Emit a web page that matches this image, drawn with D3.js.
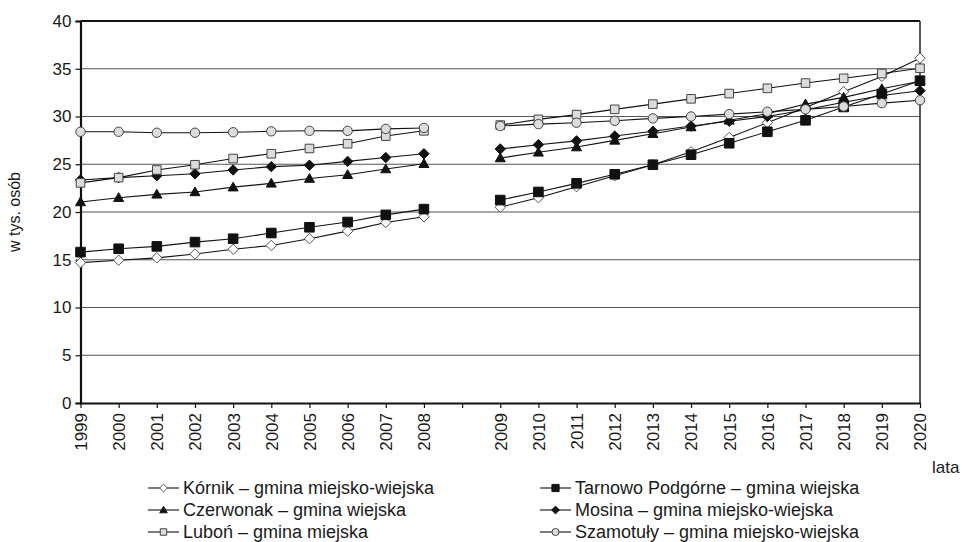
<!DOCTYPE html>
<html>
<head>
<meta charset="utf-8">
<script src="https://cdn.jsdelivr.net/npm/d3@7"></script>
<style>
  html, body { margin: 0; padding: 0; background: #fff; }
  svg text { font-family: "Liberation Sans", Arial, Helvetica, sans-serif; fill: #1a1a1a; }
</style>
</head>
<body>
<svg id="chart" width="962" height="542"></svg>
<script>
// ---- data ----
const categories = ["1999","2000","2001","2002","2003","2004","2005","2006","2007","2008"," ",
                    "2009","2010","2011","2012","2013","2014","2015","2016","2017","2018","2019","2020"];
const yTicks = [0, 5, 10, 15, 20, 25, 30, 35, 40];
const seriesNames = [
  "Kórnik – gmina miejsko-wiejska",
  "Tarnowo Podgórne – gmina wiejska",
  "Czerwonak – gmina wiejska",
  "Mosina – gmina miejsko-wiejska",
  "Luboń – gmina miejska",
  "Szamotuły – gmina miejsko-wiejska"
];
const kornik    = [14.7, 14.95, 15.2, 15.6, 16.1, 16.5, 17.2, 18.0, 18.9, 19.5, null, 20.5, 21.5, 22.65, 23.8, 24.95, 26.3, 27.8, 29.35, 30.95, 32.6, 34.2, 36.1];
const tarnowo   = [15.8, 16.15, 16.4, 16.85, 17.2, 17.8, 18.4, 18.95, 19.7, 20.3, null, 21.25, 22.1, 23.0, 23.95, 24.95, 26.0, 27.2, 28.4, 29.6, 31.0, 32.35, 33.75];
const czerwonak = [21.05, 21.5, 21.85, 22.1, 22.6, 23.0, 23.5, 23.9, 24.5, 25.05, null, 25.65, 26.25, 26.8, 27.5, 28.2, 28.9, 29.6, 30.3, 31.3, 32.0, 32.9, 33.7];
const mosina    = [23.35, 23.6, 23.8, 24.0, 24.4, 24.75, 24.9, 25.3, 25.7, 26.1, null, 26.6, 27.05, 27.45, 27.95, 28.45, 29.0, 29.5, 30.0, 30.7, 31.5, 32.2, 32.7];
const lubon     = [23.05, 23.6, 24.4, 24.95, 25.6, 26.1, 26.65, 27.15, 27.95, 28.5, null, 29.1, 29.7, 30.2, 30.75, 31.3, 31.85, 32.4, 32.95, 33.5, 34.0, 34.5, 35.05];
const szamotuly = [28.4, 28.4, 28.3, 28.3, 28.35, 28.45, 28.5, 28.5, 28.7, 28.8, null, 29.0, 29.2, 29.35, 29.55, 29.8, 30.0, 30.25, 30.5, 30.75, 31.05, 31.4, 31.7];
const seriesValues = [kornik, tarnowo, czerwonak, mosina, lubon, szamotuly];

// ---- styles ----
const markerStyles = [
  { shape: "diamond", fill: "#ffffff", stroke: "#555", size: 5.2 },
  { shape: "square",  fill: "#111111", stroke: "#111", size: 4.8 },
  { shape: "triangle",fill: "#111111", stroke: "#111", size: 5.0 },
  { shape: "diamond", fill: "#111111", stroke: "#111", size: 5.2 },
  { shape: "square",  fill: "#dcdcdc", stroke: "#444", size: 4.3 },
  { shape: "circle",  fill: "#dcdcdc", stroke: "#444", size: 4.7 }
];

function markerPath(shape, s) {
  const p = d3.path();
  if (shape === "diamond") {
    p.moveTo(0, -s); p.lineTo(s, 0); p.lineTo(0, s); p.lineTo(-s, 0); p.closePath();
  } else if (shape === "square") {
    p.rect(-s, -s, 2 * s, 2 * s);
  } else if (shape === "triangle") {
    p.moveTo(0, -s); p.lineTo(s, s * 0.75); p.lineTo(-s, s * 0.75); p.closePath();
  } else {
    p.arc(0, 0, s, 0, 2 * Math.PI);
  }
  return p.toString();
}

// ---- layout ----
const svg = d3.select("#chart");
const plotLeft = 80.5, plotRight = 920, plotTop = 21, plotBottom = 403;

const x = d3.scalePoint().domain(categories).range([plotLeft, plotRight]);
const y = d3.scaleLinear().domain([0, 40]).range([plotBottom, plotTop]);

// gridlines
svg.append("g").selectAll("line")
  .data(yTicks.filter(v => v > 0 && v < 40))
  .join("line")
  .attr("x1", plotLeft).attr("x2", plotRight)
  .attr("y1", d => y(d)).attr("y2", d => y(d))
  .attr("stroke", "#555").attr("stroke-width", 1.2);

// top and right frame
svg.append("line").attr("x1", plotLeft).attr("x2", plotRight).attr("y1", y(40)).attr("y2", y(40))
  .attr("stroke", "#111").attr("stroke-width", 2);
svg.append("line").attr("x1", plotRight).attr("x2", plotRight).attr("y1", y(40)).attr("y2", y(0))
  .attr("stroke", "#111").attr("stroke-width", 1.4);

// y axis
const yAxis = svg.append("g").attr("transform", `translate(${plotLeft},0)`)
  .call(d3.axisLeft(y).tickValues(yTicks).tickSize(5).tickPadding(4).tickFormat(d3.format("d")));
yAxis.select(".domain").attr("stroke", "#111").attr("stroke-width", 2.2);
yAxis.selectAll(".tick line").attr("stroke", "#111").attr("stroke-width", 1.2);
yAxis.selectAll(".tick text").attr("font-size", 17).style("font-family", "Liberation Sans, Arial, sans-serif").attr("fill", "#1a1a1a");

// x axis
const xAxis = svg.append("g").attr("transform", `translate(0,${plotBottom})`)
  .call(d3.axisBottom(x).tickSize(5).tickSizeOuter(0));
xAxis.select(".domain").attr("stroke", "#111").attr("stroke-width", 2.2);
xAxis.selectAll(".tick line").attr("stroke", "#111").attr("stroke-width", 1.2);
xAxis.selectAll(".tick text")
  .attr("font-size", 17).style("font-family", "Liberation Sans, Arial, sans-serif").attr("fill", "#1a1a1a")
  .attr("text-anchor", "end")
  .attr("dy", "0.35em")
  .attr("transform", "translate(0,10) rotate(-90)")
  .attr("x", 0).attr("y", 0);

// y label
svg.append("text")
  .attr("transform", `translate(20,${(plotTop + plotBottom) / 2}) rotate(-90)`)
  .attr("text-anchor", "middle")
  .attr("font-size", 16)
  .text("w tys. osób");

// x label
svg.append("text").attr("x", 932).attr("y", 473).attr("font-size", 17).text("lata");

// series lines and markers
const line = d3.line()
  .defined(d => d.v !== null)
  .x(d => x(d.c))
  .y(d => y(d.v));

seriesValues.forEach((vals, i) => {
  const pts = vals.map((v, j) => ({ c: categories[j], v }));
  const g = svg.append("g");
  g.append("path").datum(pts).attr("d", line)
    .attr("fill", "none").attr("stroke", "#111").attr("stroke-width", 1.1);
  const st = markerStyles[i];
  g.selectAll("path.m").data(pts.filter(d => d.v !== null)).join("path")
    .attr("class", "m")
    .attr("transform", d => `translate(${x(d.c)},${y(d.v)})`)
    .attr("d", markerPath(st.shape, st.size))
    .attr("fill", st.fill).attr("stroke", st.stroke).attr("stroke-width", 1);
});

// legend
const legendCols = [148, 540];
const legendRows = [488, 510, 532];
seriesNames.forEach((name, i) => {
  const col = i % 2, row = Math.floor(i / 2);
  const lx = legendCols[col], ly = legendRows[row];
  const g = svg.append("g").attr("transform", `translate(${lx},${ly})`);
  g.append("line").attr("x1", 0).attr("x2", 31).attr("y1", 0).attr("y2", 0)
    .attr("stroke", "#111").attr("stroke-width", 1.1);
  const st = markerStyles[i];
  g.append("path").attr("transform", "translate(15.5,0)")
    .attr("d", markerPath(st.shape, st.size * 0.75))
    .attr("fill", st.fill).attr("stroke", st.stroke).attr("stroke-width", 1);
  g.append("text").attr("x", 35).attr("y", 0).attr("dy", "0.35em")
    .attr("font-size", 18).text(name);
});
</script>
</body>
</html>
